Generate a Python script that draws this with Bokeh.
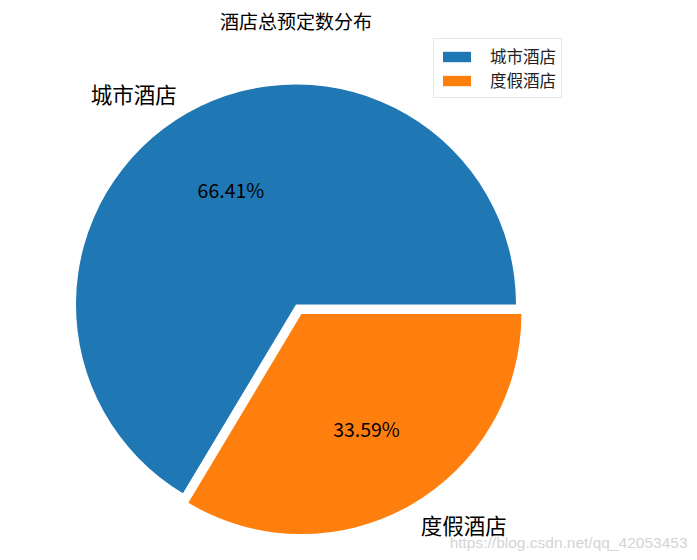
import numpy as np
from bokeh.plotting import figure
from bokeh.models import ColumnDataSource, Range1d
from bokeh.core.properties import value
from bokeh.embed import file_html
from bokeh.resources import INLINE

# data
labels = ["城市酒店", "度假酒店"]
shares = [66.41, 33.59]
explode = [0.0, 0.05]
colors = ["#1f77b4", "#ff7f0e"]
title = "酒店总预定数分布"
watermark = "https://blog.csdn.net/qq_42053453"

W, H = 689, 552
cx, cy, r = 295.5, 248, 220
cjk = value("Noto Sans CJK SC")

frac = np.array(shares) / sum(shares)
ends = np.cumsum(frac) * 2 * np.pi
starts = ends - frac * 2 * np.pi
mids = (starts + ends) / 2
ex = np.array(explode)
xs = cx + ex * r * np.cos(mids)
ys = cy + ex * r * np.sin(mids)

src = ColumnDataSource(dict(x=xs, y=ys, start=starts, end=ends, color=colors, label=labels))

p = figure(width=W, height=H, x_range=Range1d(0, W), y_range=Range1d(0, H),
           x_axis_type=None, y_axis_type=None, toolbar_location=None,
           output_backend="svg", min_border=0)
p.grid.visible = False
p.outline_line_color = None

p.wedge(x="x", y="y", radius=r, start_angle="start", end_angle="end",
        fill_color="color", line_color=None, source=src, legend_field="label")

# slice labels
lx = xs + 1.1 * r * np.cos(mids)
ly = ys + 1.1 * r * np.sin(mids)
for i in range(len(labels)):
    p.text(x=[lx[i]], y=[ly[i]], text=[labels[i]], text_font=cjk, text_font_size="21.5px",
           text_align="right" if lx[i] < cx else "left", text_baseline="middle", text_color="#000000")

# percentages
px = xs + 0.6 * r * np.cos(mids)
py = ys + 0.6 * r * np.sin(mids)
pcts = ["%.2f%%" % s for s in shares]
p.text(x=px, y=py, text=pcts, text_font=cjk, text_font_size="19.5px",
       text_align="center", text_baseline="middle", text_color="#000000")

# title and watermark
p.text(x=[cx], y=[532], text=[title], text_font=cjk, text_font_size="19px",
       text_align="center", text_baseline="middle", text_color="#000000")
p.text(x=[687], y=[10], text=[watermark], text_font=value("Liberation Sans"), text_font_size="15.5px",
       text_align="right", text_baseline="middle", text_color="#d4d4d4")

lg = p.legend[0]
lg.location = (433, 454)
lg.label_text_font = "Noto Sans CJK SC"
lg.label_text_font_size = "16.5px"
lg.label_text_color = "#222222"
lg.glyph_width = 35
lg.glyph_height = 13
lg.label_height = 13
lg.label_standoff = 16
lg.spacing = 0
lg.padding = 5
lg.margin = 0
lg.border_line_color = "#cccccc"
lg.background_fill_alpha = 0.8

open("out.html", "w").write(file_html(p, INLINE))
